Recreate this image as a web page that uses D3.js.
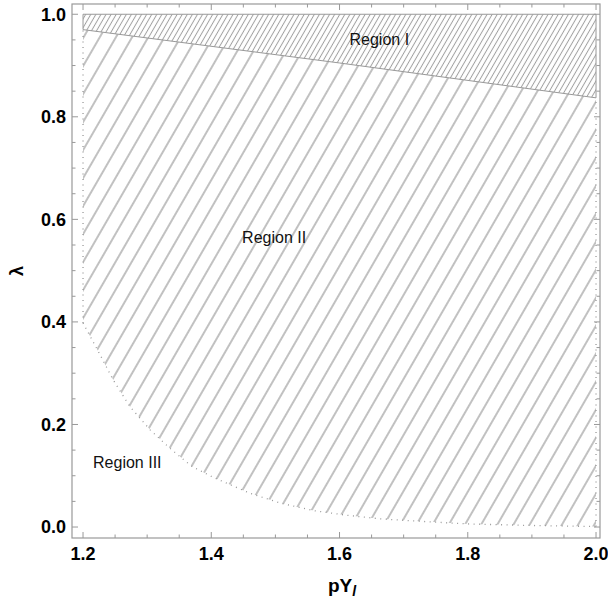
<!DOCTYPE html>
<html>
<head>
<meta charset="utf-8">
<script src="https://cdn.jsdelivr.net/npm/d3@7"></script>
<style>
  body { margin: 0; background: #fff; }
  text { font-family: "Liberation Sans", Arial, sans-serif; }
</style>
</head>
<body>
<div id="chart"></div>
<script>
// boundary between region II and region III (dotted curve)
var curveX = [1.2, 1.224, 1.247, 1.273, 1.305, 1.336, 1.37, 1.403, 1.46, 1.507, 1.559, 1.611, 1.663, 1.7, 1.8, 1.9, 2.0];
var curveY = [0.398, 0.342, 0.287, 0.235, 0.189, 0.153, 0.118, 0.097, 0.066, 0.047, 0.032, 0.023, 0.016, 0.013, 0.006, 0.003, 0.001];

// boundary between region I and region II
var topX = [1.2, 1.6, 2.0];
var topY = [0.970, 0.905, 0.837];

var xTicks = [1.2, 1.4, 1.6, 1.8, 2.0];
var yTicks = [0.0, 0.2, 0.4, 0.6, 0.8, 1.0];

var regionNames = ["Region I", "Region II", "Region III"];
var regionLabelX = [1.662, 1.498, 1.269];
var regionLabelY = [0.94, 0.554, 0.115];

var svgWidth = 608;
var svgHeight = 603;

var frame = { left: 72, right: 600, top: 4, bottom: 538 };

var svg = d3.select("#chart")
  .append("svg")
  .attr("width", svgWidth)
  .attr("height", svgHeight);

// frame is a bit wider than the data range
var x = d3.scaleLinear().domain([1.1828, 2.0062]).range([frame.left, frame.right]);
var y = d3.scaleLinear().domain([-0.0214, 1.020]).range([frame.bottom, frame.top]);

var defs = svg.append("defs");

function hatch(id, spacing, color, width) {
  var p = defs.append("pattern")
    .attr("id", id)
    .attr("patternUnits", "userSpaceOnUse")
    .attr("width", spacing)
    .attr("height", 20)
    .attr("patternTransform", "rotate(30)");
  p.append("line")
    .attr("x1", spacing / 2).attr("x2", spacing / 2)
    .attr("y1", 0).attr("y2", 20)
    .attr("stroke", color)
    .attr("stroke-width", width);
}
hatch("hatchI", 4.4, "#a0a0a0", 1);
hatch("hatchII", 14, "#a6a6a6", 1.4);

var curvePts = curveX.map((d, i) => [d, curveY[i]]);
var topPts = topX.map((d, i) => [d, topY[i]]);

var line = d3.line().x(d => x(d[0])).y(d => y(d[1]));

// region II: between curve and region I boundary
var regionII = curvePts.concat(topPts.slice().reverse());
svg.append("path")
  .attr("d", line(regionII) + "Z")
  .attr("fill", "url(#hatchII)")
  .attr("stroke", "none");

// region I: between boundary line and lambda = 1
var regionI = topPts.concat([[2.0, 1.0], [1.2, 1.0]]);
svg.append("path")
  .attr("d", line(regionI) + "Z")
  .attr("fill", "url(#hatchI)")
  .attr("stroke", "#999")
  .attr("stroke-width", 1);

// dotted edges of region II
var dotted = svg.append("g")
  .attr("fill", "none")
  .attr("stroke", "#999")
  .attr("stroke-width", 1.3)
  .attr("stroke-dasharray", "1,4.5");
dotted.append("path").attr("d", line(curvePts));
dotted.append("path").attr("d", line([[1.2, curveY[0]], [1.2, topY[0]]]));
dotted.append("path").attr("d", line([[2.0, curveY[curveY.length - 1]], [2.0, topY[topY.length - 1]]]));

// frame
svg.append("rect")
  .attr("x", frame.left)
  .attr("y", frame.top)
  .attr("width", frame.right - frame.left)
  .attr("height", frame.bottom - frame.top)
  .attr("fill", "none")
  .attr("stroke", "#999")
  .attr("stroke-width", 1.2);

// inward ticks on all four sides
var xMinor = d3.range(1.2, 2.001, 0.05);
var yMinor = d3.range(0, 1.001, 0.05);
var tickG = svg.append("g").attr("stroke", "#999").attr("stroke-width", 1);

function isMajor(v) { return Math.abs(v * 5 - Math.round(v * 5)) < 1e-6; }

xMinor.forEach(function(v) {
  var len = isMajor(v) ? 6 : 3.5;
  tickG.append("line").attr("x1", x(v)).attr("x2", x(v)).attr("y1", frame.bottom).attr("y2", frame.bottom - len);
  tickG.append("line").attr("x1", x(v)).attr("x2", x(v)).attr("y1", frame.top).attr("y2", frame.top + len);
});
yMinor.forEach(function(v) {
  var len = isMajor(v) ? 6 : 3.5;
  tickG.append("line").attr("y1", y(v)).attr("y2", y(v)).attr("x1", frame.left).attr("x2", frame.left + len);
  tickG.append("line").attr("y1", y(v)).attr("y2", y(v)).attr("x1", frame.right).attr("x2", frame.right - len);
});

// tick labels
svg.append("g").selectAll("text")
  .data(xTicks)
  .enter()
  .append("text")
  .attr("x", d => x(d))
  .attr("y", frame.bottom + 22)
  .attr("text-anchor", "middle")
  .attr("font-size", 18)
  .attr("font-weight", "bold")
  .text(d => d3.format(".1f")(d));

svg.append("g").selectAll("text")
  .data(yTicks)
  .enter()
  .append("text")
  .attr("x", frame.left - 6)
  .attr("y", d => y(d))
  .attr("dy", "0.35em")
  .attr("text-anchor", "end")
  .attr("font-size", 18)
  .attr("font-weight", "bold")
  .text(d => d3.format(".1f")(d));

// axis titles
var xTitle = svg.append("text")
  .attr("x", (frame.left + frame.right) / 2 + 6)
  .attr("y", 592)
  .attr("text-anchor", "middle")
  .attr("font-size", 19)
  .attr("font-weight", "bold");
xTitle.append("tspan").text("pY");
xTitle.append("tspan")
  .attr("font-style", "italic")
  .attr("font-size", 14)
  .attr("dy", 4)
  .text("l");

svg.append("text")
  .attr("transform", `translate(23, ${(frame.top + frame.bottom) / 2}) rotate(-90)`)
  .attr("text-anchor", "middle")
  .attr("font-size", 18)
  .attr("font-weight", "bold")
  .text("λ");

// region labels
svg.append("g").selectAll("text")
  .data(regionNames)
  .enter()
  .append("text")
  .attr("x", (d, i) => x(regionLabelX[i]))
  .attr("y", (d, i) => y(regionLabelY[i]))
  .attr("text-anchor", "middle")
  .attr("font-size", 16)
  .attr("fill", "#111")
  .text(d => d);
</script>
</body>
</html>
